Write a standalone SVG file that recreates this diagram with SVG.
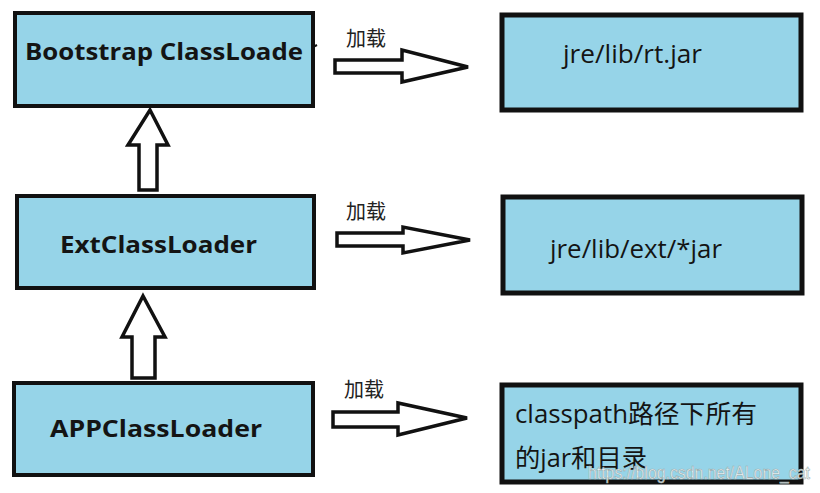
<svg xmlns="http://www.w3.org/2000/svg" width="820" height="493" viewBox="0 0 820 493">
<style>
.box{fill:#96d4e8;stroke:#111;stroke-width:4}
.rbox{fill:#96d4e8;stroke:#111;stroke-width:5}
.ld{font-family:"Open Sans","DejaVu Sans",sans-serif;font-weight:bold;font-size:24px;fill:#141414}
.pt{font-family:"Open Sans","Noto Sans CJK SC",sans-serif;font-size:25px;fill:#141414}
.lbl{font-family:"Noto Sans CJK SC",sans-serif;font-size:20px;fill:#222}
.arr{fill:#fff;stroke:#111;stroke-width:3.5;stroke-linejoin:miter}
.wm{font-family:"Liberation Sans",Arial,sans-serif;font-size:18px;fill:#fff;fill-opacity:0.85;stroke:#9aa;stroke-width:0.6}
</style>
<rect width="820" height="493" fill="#fff"/>
<g id="bootstrap"><rect class="box" x="15" y="13" width="298" height="93"/><text class="ld" x="25" y="60" textLength="278" lengthAdjust="spacingAndGlyphs">Bootstrap ClassLoade</text><line x1="313" y1="47" x2="317" y2="45" stroke="#111" stroke-width="2"/></g>
<g id="ext"><rect class="box" x="17" y="196" width="297" height="92"/><text class="ld" x="60" y="253" textLength="197" lengthAdjust="spacingAndGlyphs">ExtClassLoader</text></g>
<g id="app"><rect class="box" x="14" y="383" width="299" height="92"/><text class="ld" x="50" y="437" textLength="212" lengthAdjust="spacingAndGlyphs">APPClassLoader</text></g>
<g id="rt"><rect class="rbox" x="502" y="15" width="299" height="95"/><text class="pt" x="563" y="63" textLength="139" lengthAdjust="spacingAndGlyphs">jre/lib/rt.jar</text></g>
<g id="extjar"><rect class="rbox" x="503" y="197" width="299" height="96"/><text class="pt" x="550" y="258" textLength="172" lengthAdjust="spacingAndGlyphs">jre/lib/ext/*jar</text></g>
<g id="classpath"><rect class="rbox" x="502" y="385" width="299" height="97"/><text class="pt" x="515" y="423" textLength="242" lengthAdjust="spacingAndGlyphs">classpath路径下所有</text><text class="pt" x="515" y="467" textLength="132" lengthAdjust="spacingAndGlyphs">的jar和目录</text></g>
<g id="connectors">
<polygon class="arr" points="139,190 139,145 128,145 150,110 168,145 157,145 157,190"/>
<polygon class="arr" points="132,378 132,337 122,337 143,296 165,337 155,337 155,378"/>
<polygon class="arr" points="335,60 402,60 402,50 468,67 402,82 402,73 335,73"/>
<polygon class="arr" points="337,233 403,233 403,227 470,240 403,253 403,246 337,246"/>
<polygon class="arr" points="333,412 398,412 398,403 467,418 398,435 398,427 333,427"/>
<text class="lbl" x="346" y="46">加载</text>
<text class="lbl" x="346" y="219">加载</text>
<text class="lbl" x="344" y="397">加载</text>
</g>
<text class="wm" x="588" y="479" textLength="222" lengthAdjust="spacingAndGlyphs">https://blog.csdn.net/ALone_cat</text>
</svg>
